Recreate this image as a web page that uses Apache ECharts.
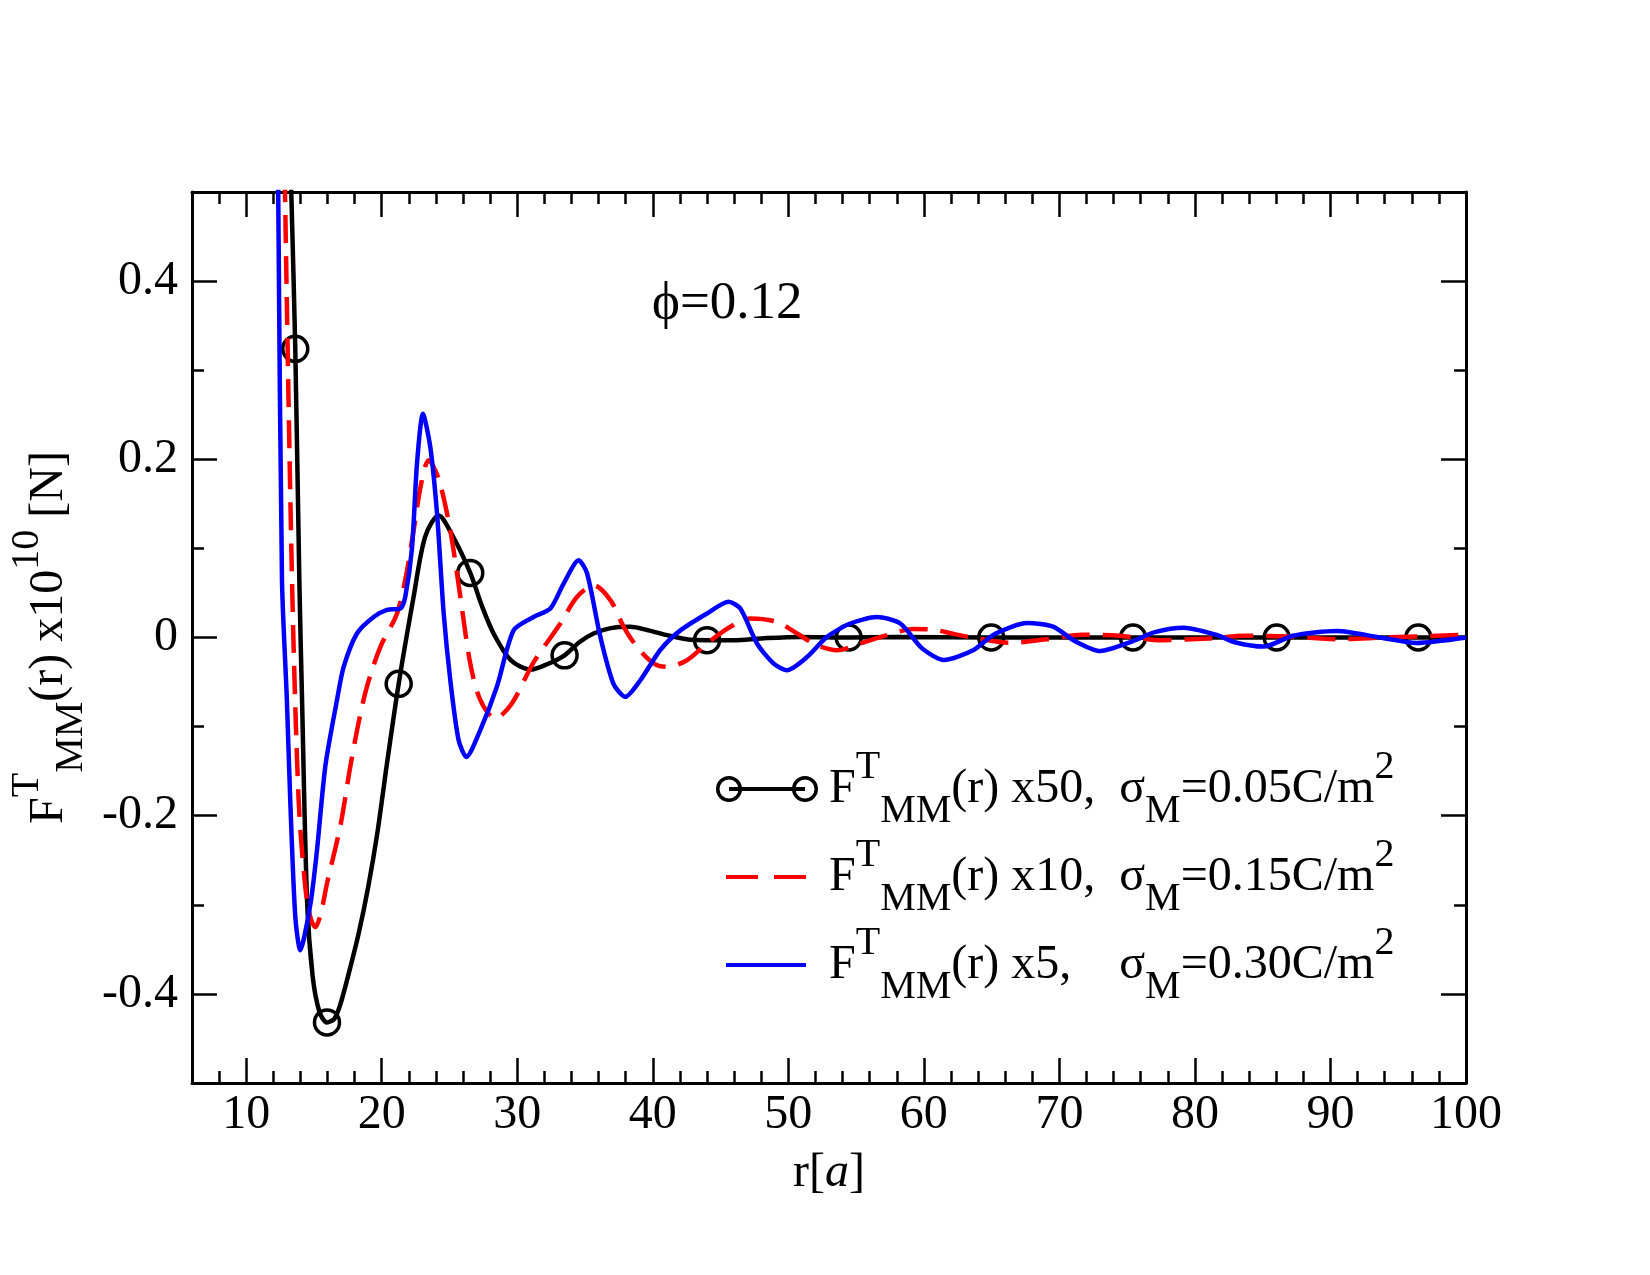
<!DOCTYPE html>
<html>
<head>
<meta charset="utf-8">
<script src="https://cdn.jsdelivr.net/npm/echarts@6/dist/echarts.min.js"></script>
<style>
  html, body { margin: 0; padding: 0; background: #fff; }
  #chart { width: 1650px; height: 1275px; }
</style>
</head>
<body>
<div id="chart"></div>
<script>
// F^T_MM(r) x50, sigma_M = 0.05 C/m^2 (black, circles)
const blackR = [13.29, 13.62, 13.92, 14.12, 14.49, 14.9, 15.4, 15.96, 16.5, 16.94, 17.6, 18.3, 19.0, 19.67, 20.39,
  21.25, 22.35, 23.2, 24.2, 25.2, 26.53, 27.4, 28.25, 29.5, 30.96, 32.2, 33.49, 34.6, 35.63, 36.9, 38.34, 39.7,
  41.05, 42.5, 44.0, 46.0, 48.0, 50.9, 54.45, 58.0, 64.97, 75.43, 86.03, 96.48, 100];
const blackF = [0.52, 0.324, 0.064, -0.07, -0.295, -0.38, -0.42, -0.432, -0.428, -0.412, -0.375, -0.332, -0.28, -0.22, -0.141,
  -0.052, 0.0455, 0.113, 0.137, 0.115, 0.0725, 0.035, 0.0045, -0.025, -0.036, -0.03, -0.02, -0.005, 0.0045, 0.0105, 0.012, 0.008,
  0.0026, -0.002, -0.003, -0.003, -0.001, 0.0007, 0.0, 0.0005, 0.0, 0.0, 0.0, 0.0, 0.0];
const blackMarkerR = [13.62, 15.96, 21.25, 26.53, 33.49, 44.0, 54.45, 64.97, 75.43, 86.03, 96.48];

// F^T_MM(r) x10, sigma_M = 0.15 C/m^2 (red dashed)
const redR = [12.84, 13.38, 13.87, 14.36, 14.75, 15.1, 15.5, 15.96, 16.94, 17.68, 18.3, 18.91, 19.9, 21.13, 21.8, 22.35,
  22.9, 23.46, 24.2, 25.06, 25.8, 26.53, 27.27, 28.38, 29.6, 31.2, 33.18, 34.4, 35.63, 36.87, 37.85, 38.83, 40.06,
  41.05, 42.52, 44.0, 45.72, 47.2, 49.16, 50.64, 52.1, 53.6, 55.31, 57.28, 59.24, 60.6, 62.2, 63.6, 66.3, 69.0,
  71.7, 74.4, 77.6, 81.0, 83.7, 87.0, 90.5, 94.0, 100];
const redF = [0.52, 0.064, -0.183, -0.28, -0.315, -0.325, -0.31, -0.276, -0.212, -0.145, -0.095, -0.055, -0.0105, 0.027, 0.07, 0.12,
  0.172, 0.199, 0.178, 0.12, 0.0455, -0.029, -0.07, -0.091, -0.074, -0.028, 0.0157, 0.0455, 0.0587, 0.042, 0.012, -0.0105, -0.029,
  -0.033, -0.0255, -0.0067, 0.012, 0.0213, 0.0175, 0.0045, -0.0086, -0.0142, -0.0067, 0.0026, 0.0095, 0.009, 0.004, 0.0, -0.006, -0.002,
  0.003, 0.002, -0.003, -0.001, 0.002, 0.001, -0.002, 0.0, 0.003];

// F^T_MM(r) x5, sigma_M = 0.30 C/m^2 (blue)
const blueR = [12.35, 12.64, 13.0, 13.25, 13.62, 13.99, 14.3, 14.78, 15.22, 15.85, 16.7, 17.19, 18.17, 19.4, 20.39, 21.37,
  21.74, 22.23, 22.6, 23.04, 23.58, 24.08, 24.57, 25.06, 25.67, 26.24, 27.27, 28.5, 29.73, 31.2, 32.44, 33.42, 34.53,
  35.15, 36.13, 37.1, 37.97, 39.08, 40.55, 42.03, 44.0, 45.6, 46.46, 47.69, 48.9, 49.9, 51.38, 52.85, 54.57, 56.54,
  58.26, 59.87, 61.48, 63.63, 65.23, 67.65, 69.53, 71.14, 73.01, 75.43, 77.04, 79.18, 81.6, 82.94, 85.08, 87.23,
  90.45, 93.66, 96.35, 100];
const blueF = [0.52, 0.064, -0.07, -0.183, -0.313, -0.351, -0.335, -0.295, -0.239, -0.143, -0.07, -0.033, 0.0045, 0.023, 0.031, 0.0325,
  0.046, 0.1, 0.195, 0.251, 0.214, 0.139, 0.027, -0.048, -0.115, -0.134, -0.104, -0.055, 0.008, 0.023, 0.0325, 0.0605, 0.0867,
  0.072, 0.0007, -0.052, -0.0666, -0.048, -0.014, 0.008, 0.027, 0.04, 0.0325, -0.0067, -0.029, -0.0367, -0.022, 0.0007, 0.0157, 0.023,
  0.0157, -0.0122, -0.0253, -0.0143, 0.004, 0.0163, 0.0122, -0.004, -0.0151, -0.004, 0.0061, 0.011, 0.0029, -0.0053, -0.0102, 0.002,
  0.0073, 0.0, -0.0061, 0.0];

const seriesNames = ['x50', 'x10', 'x5'];
const legendFactors = ['x50,  ', 'x10,  ', 'x5,    '];
const legendSigmas = ['0.05', '0.15', '0.30'];

const xMajorTicks = [10, 20, 30, 40, 50, 60, 70, 80, 90, 100];
const xMinorTicks = [8, 12, 14, 16, 18, 22, 24, 26, 28, 32, 34, 36, 38, 42, 44, 46, 48, 52, 54, 56, 58,
  62, 64, 66, 68, 72, 74, 76, 78, 82, 84, 86, 88, 92, 94, 96, 98];
const yMajorTicks = [-0.4, -0.2, 0, 0.2, 0.4];
const yMinorTicks = [-0.3, -0.1, 0.1, 0.3];

const FONT = "'Liberation Serif', 'Times New Roman', serif";

const rich = {
  sp: { width: 6, lineHeight: 84 },
  b: { fontSize: 48, lineHeight: 84, fontFamily: FONT, color: '#000', verticalAlign: 'middle' },
  i: { fontSize: 48, lineHeight: 84, fontFamily: FONT, color: '#000', fontStyle: 'italic', verticalAlign: 'middle' },
  sup: { fontSize: 40, lineHeight: 16, fontFamily: FONT, color: '#000', verticalAlign: 'top' },
  sub: { fontSize: 40, lineHeight: 42, fontFamily: FONT, color: '#000', verticalAlign: 'bottom' }
};

function pairs(rs, fs) {
  return rs.map((r, i) => [r, fs[i]]);
}

function xAxisDef(position, ticks, len, isMain) {
  return {
    type: 'value', position: position, min: 6, max: 100, interval: 2,
    axisLine: { show: isMain, onZero: false, lineStyle: { color: '#000', width: 3 } },
    axisTick: { show: true, inside: true, length: len, customValues: ticks, lineStyle: { color: '#000', width: 2.5 } },
    axisLabel: { show: isMain && position === 'bottom', customValues: ticks, margin: 8,
      fontSize: 48, fontFamily: FONT, color: '#000' },
    splitLine: { show: false }
  };
}

function yAxisDef(position, ticks, len, isMain) {
  return {
    type: 'value', position: position, min: -0.5, max: 0.5, interval: 0.1,
    axisLine: { show: isMain, onZero: false, lineStyle: { color: '#000', width: 3 } },
    axisTick: { show: true, inside: true, length: len, customValues: ticks, lineStyle: { color: '#000', width: 2.5 } },
    axisLabel: { show: isMain && position === 'left', customValues: ticks, margin: 14,
      fontSize: 48, fontFamily: FONT, color: '#000' },
    splitLine: { show: false }
  };
}

const xAxes = [
  xAxisDef('bottom', xMajorTicks, 25, true),
  xAxisDef('bottom', xMinorTicks, 12, false),
  xAxisDef('top', xMajorTicks, 25, true),
  xAxisDef('top', xMinorTicks, 12, false)
];
xAxes[0].name = '{b|r[}{i|a}{b|]}';
xAxes[0].nameLocation = 'middle';
xAxes[0].nameGap = 48;
xAxes[0].nameTextStyle = { rich: rich, fontFamily: FONT };

const yAxes = [
  yAxisDef('left', yMajorTicks, 25, true),
  yAxisDef('left', yMinorTicks, 12, false),
  yAxisDef('right', yMajorTicks, 25, true),
  yAxisDef('right', yMinorTicks, 12, false)
];
yAxes[0].name = '{b|F}{sup|T}{sub|MM}{b|(r) x10}{sup|10}{b| [N]}';
yAxes[0].nameLocation = 'middle';
yAxes[0].nameGap = 82;
yAxes[0].nameTextStyle = { rich: rich, fontFamily: FONT };

const blackData = pairs(blackR, blackF).map(p => {
  if (blackMarkerR.indexOf(p[0]) >= 0) {
    return { value: p, symbol: 'circle', symbolSize: 25,
      itemStyle: { color: 'transparent', borderColor: '#000', borderWidth: 3.5 } };
  }
  return { value: p };
});

const chart = echarts.init(document.getElementById('chart'));

chart.setOption({
  backgroundColor: '#fff',
  animation: false,
  grid: { left: 192, top: 192, width: 1274, height: 891, containLabel: false, outerBoundsMode: 'none' },
  xAxis: xAxes,
  yAxis: yAxes,
  legend: {
    orient: 'vertical', left: 716, top: 747, padding: 0, itemGap: 4,
    itemWidth: 102, itemHeight: 28, selectedMode: false,
    itemStyle: { borderWidth: 0 },
    textStyle: { rich: rich, fontFamily: FONT },
    formatter: name => {
      const i = seriesNames.indexOf(name);
      return '{sp|}{b|F}{sup|T}{sub|MM}{b|(r) ' + legendFactors[i] + 'σ}{sub|M}{b|=' + legendSigmas[i] + 'C/m}{sup|2}';
    },
    data: [
      { name: 'x50', itemStyle: { color: '#000', borderWidth: 0 },
        icon: 'path://M0,14A13,13 0 1,0 26,14A13,13 0 1,0 0,14Z M3.5,14A9.5,9.5 0 1,1 22.5,14A9.5,9.5 0 1,1 3.5,14Z M76,14A13,13 0 1,0 102,14A13,13 0 1,0 76,14Z M79.5,14A9.5,9.5 0 1,1 98.5,14A9.5,9.5 0 1,1 79.5,14Z M13,12L13,16L89,16L89,12Z' },
      { name: 'x10', itemStyle: { color: '#ff0000', borderWidth: 0 },
        icon: 'path://M0,0L0,0 M102,28L102,28 M10,12L10,16L42,16L42,12Z M58,12L58,16L90,16L90,12Z' },
      { name: 'x5', itemStyle: { color: '#0000ff', borderWidth: 0 },
        icon: 'path://M0,0L0,0 M102,28L102,28 M10,12L10,16L90,16L90,12Z' }
    ]
  },
  graphic: [
    { type: 'text', left: 652, top: 278,
      style: { text: 'ϕ=0.12', font: "53px 'Liberation Serif', serif", fill: '#000' } }
  ],
  series: [
    {
      name: 'x50', type: 'line', xAxisIndex: 0, yAxisIndex: 0,
      data: blackData, symbol: 'none', smooth: 0.3,
      lineStyle: { color: '#000', width: 4.5 }, itemStyle: { color: '#000' }, z: 3
    },
    {
      name: 'x10', type: 'line', xAxisIndex: 0, yAxisIndex: 0,
      data: pairs(redR, redF), symbol: 'none', smooth: 0.3,
      lineStyle: { color: '#ff0000', width: 4.5, type: [28, 13] }, itemStyle: { color: '#ff0000' }, z: 4
    },
    {
      name: 'x5', type: 'line', xAxisIndex: 0, yAxisIndex: 0,
      data: pairs(blueR, blueF), symbol: 'none', smooth: 0.25,
      lineStyle: { color: '#0000ff', width: 4.5 }, itemStyle: { color: '#0000ff' }, z: 5
    }
  ]
});
</script>
</body>
</html>
